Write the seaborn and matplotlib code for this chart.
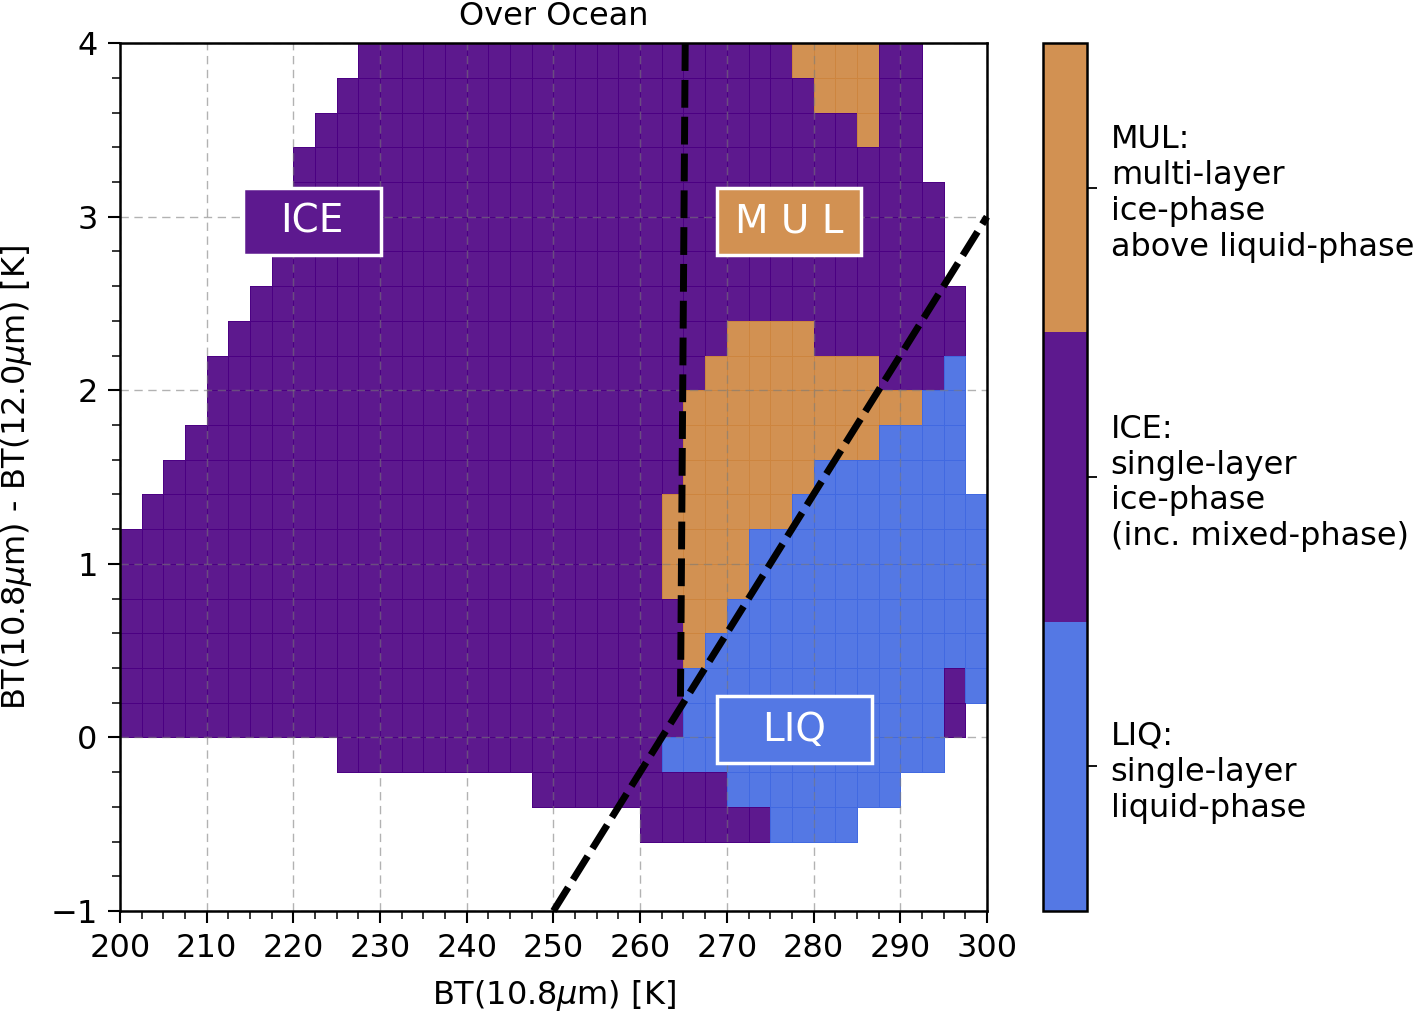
import re
import numpy as np
import pandas as pd
import matplotlib
matplotlib.use("Agg")
import matplotlib.pyplot as plt
from matplotlib.colors import ListedColormap, to_rgb
from matplotlib.patches import Rectangle
import seaborn as sns

sns.set_style("ticks", rc={'text.color': 'black', 'axes.labelcolor': 'black',
                           'xtick.color': 'black', 'ytick.color': 'black',
                           'axes.edgecolor': 'black'})
plt.rcParams['font.family'] = ['DejaVu Sans']

# phase classes, in colorbar order (bottom -> top)
phase_names = ["LIQ", "ICE", "MUL"]
phase_colors = ["royalblue", "indigo", "peru"]
phase_labels = ["LIQ:\nsingle-layer\nliquid-phase",
                "ICE:\nsingle-layer\nice-phase\n(inc. mixed-phase)",
                "MUL:\nmulti-layer\nice-phase\nabove liquid-phase"]

# bins: BT(10.8um) 200..300 K step 2.5, BTD -1..4 K step 0.2
bt_start, bt_step, n_bt = 200.0, 2.5, 40
btd_top, btd_step, n_btd = 4.0, 0.2, 25

# dominant phase per bin, one row per BTD bin from top (3.8-4.0) to bottom (-1.0 - -0.8)
# run-length coded: "11." = 11 empty bins, "20I" = 20 ICE bins, ...
phase_rows = [
    "11. 20I 4M 2I 3.",
    "10. 22I 3M 2I 3.",
    "9. 25I 1M 2I 3.",
    "8. 29I 3.",
    "8. 30I 2.",
    "8. 30I 2.",
    "7. 31I 2.",
    "6. 33I 1.",
    "5. 23I 4M 7I 1.",
    "4. 23I 8M 3I 1L 1.",
    "4. 22I 11M 2L 1.",
    "3. 23I 9M 4L 1.",
    "2. 24I 6M 7L 1.",
    "1. 24I 6M 9L",
    "25I 4M 11L",
    "25I 4M 11L",
    "26I 2M 12L",
    "26I 1M 13L",
    "26I 12L 1I 1L",
    "26I 12L 1I 1.",
    "10. 15I 13L 2.",
    "19. 9I 8L 4.",
    "24. 6I 4L 6.",
    "40.",
    "40.",
]

# separating lines drawn on top
ice_line_bt = [265.2, 264.65]
ice_line_btd = [4.0, 0.2]
liq_line_bt = [250.0, 300.0]
liq_line_btd = [-1.0, 3.0]

# in-plot class labels: centre and box size (K)
box_text = ["ICE", "M U L", "LIQ"]
box_bt = [222.15, 277.2, 277.8]
box_btd = [2.97, 2.97, 0.045]
box_w = [15.9, 16.6, 17.8]
box_h = 0.385
box_colors = ["indigo", "peru", "royalblue"]

x_ticks = [200, 210, 220, 230, 240, 250, 260, 270, 280, 290, 300]
y_ticks = [-1, 0, 1, 2, 3, 4]

alpha = 0.9


def expand(row):
    code = {'L': 0.0, 'I': 1.0, 'M': 2.0, '.': np.nan}
    out = []
    for n, c in re.findall(r'(\d+)([LIM.])', row):
        out += [code[c]] * int(n)
    assert len(out) == n_bt
    return out


def col(x):
    return (np.asarray(x) - bt_start) / bt_step


def row(y):
    return (btd_top - np.asarray(y)) / btd_step


def on_white(c):
    # same look as the translucent cells, but opaque
    return tuple(alpha * np.array(to_rgb(c)) + (1 - alpha))


grid = np.array([expand(r) for r in phase_rows])
bt_centres = bt_start + bt_step * (np.arange(n_bt) + 0.5)
btd_centres = btd_top - btd_step * (np.arange(n_btd) + 0.5)
df = pd.DataFrame(grid, index=np.round(btd_centres, 2), columns=bt_centres)

fig = plt.figure(figsize=(14.18, 10.15), dpi=100)
ax = fig.add_axes([0.0846, 0.1025, 0.6114, 0.855])
cax = fig.add_axes([0.7356, 0.1025, 0.031, 0.855])

sns.heatmap(df, ax=ax, cbar_ax=cax, cmap=ListedColormap(phase_colors),
            vmin=-0.5, vmax=2.5, alpha=alpha, linewidths=0.6, linecolor='face',
            xticklabels=False, yticklabels=False)

ax.set_xlim(0, n_bt)
ax.set_ylim(n_btd, 0)

# axes, ticks, grid
for sp in ax.spines.values():
    sp.set_visible(True)
    sp.set_linewidth(1.8)
    sp.set_color('black')
    sp.set_zorder(10)
ax.set_xticks(col(x_ticks))
ax.set_xticklabels([str(v) for v in x_ticks], rotation=0)
ax.set_xticks(np.arange(n_bt + 1), minor=True)
ax.set_yticks(row(y_ticks))
ax.set_yticklabels([str(v).replace('-', '\u2212') for v in y_ticks], rotation=0)
ax.set_yticks(np.arange(n_btd + 1), minor=True)
ax.tick_params(which='major', length=8.5, width=1.5, pad=7.5, labelsize=23,
               direction='out', color='black', labelcolor='black')
ax.tick_params(which='minor', length=5.5, width=1.1, direction='out', color='black')
ax.set_axisbelow(False)
ax.grid(True, which='major', color='gray', alpha=0.6, linewidth=1,
        linestyle=(0, (6, 4)))

ax.set_xlabel("BT(10.8$\\mu$m) [K]", fontsize=23, labelpad=10, color='black')
ax.set_ylabel("BT(10.8$\\mu$m) - BT(12.0$\\mu$m) [K]", fontsize=23, labelpad=12,
              color='black')
ax.set_title("Over Ocean", fontsize=23, pad=13, color='black')

# boundary lines
ax.plot(col(ice_line_bt), row(ice_line_btd), color='black', lw=5,
        linestyle=(0, (4, 1.3)), zorder=4)
ax.plot(col(liq_line_bt), row(liq_line_btd), color='black', lw=5,
        linestyle=(0, (4, 1.3)), zorder=4, clip_on=False)

# class labels in boxes
for txt, bx, by, bw, bc in zip(box_text, box_bt, box_btd, box_w, box_colors):
    ax.add_patch(Rectangle((col(bx - bw / 2), row(by + box_h / 2)),
                           bw / bt_step, box_h / btd_step,
                           facecolor=on_white(bc), edgecolor='white',
                           linewidth=2.5, zorder=5))
    ax.text(col(bx), row(by), txt, color='white', fontsize=28,
            ha='center', va='center', zorder=6)

# colorbar
cbar = ax.collections[0].colorbar
cbar.set_ticks([0, 1, 2])
cbar.set_ticklabels(phase_labels)
cbar.minorticks_off()
cbar.outline.set_visible(True)
cbar.outline.set_linewidth(1.8)
cbar.outline.set_edgecolor('black')
cax.tick_params(length=7, width=1.3, pad=10, labelsize=23, color='black',
                labelcolor='black')

fig.savefig("out.png", dpi=100)
